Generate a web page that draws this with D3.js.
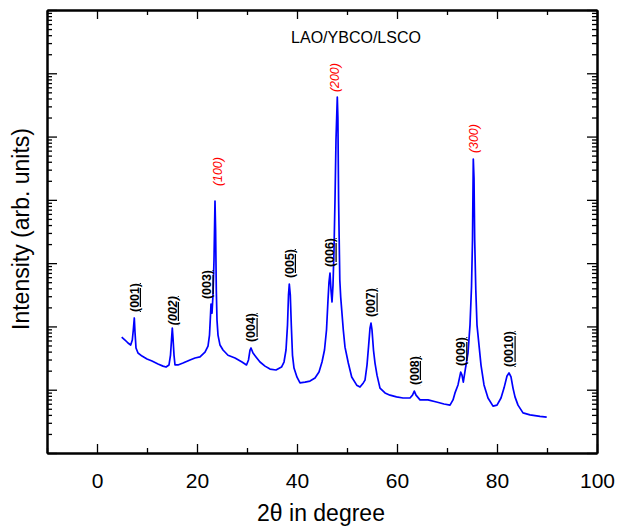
<!DOCTYPE html>
<html>
<head>
<meta charset="utf-8">
<script src="https://cdn.jsdelivr.net/npm/d3@7/dist/d3.min.js"></script>
<style>
  html, body { margin: 0; padding: 0; background: #fff; }
  svg { display: block; font-family: "Liberation Sans", Arial, sans-serif; }
</style>
</head>
<body>
<svg id="chart" width="619" height="526"></svg>
<script>
// XRD scan of LAO/YBCO/LSCO: 2θ (degrees) and intensity (arb. units)
const twoTheta = [
  4.94, 5.6, 6.2, 6.74, 7.06, 7.26, 7.46, 7.6, 7.8, 8.2, 9.0, 10.0, 11.0, 12.2, 13.2, 13.8,
  14.4, 14.7, 14.9, 15.06, 15.2, 15.4, 15.6, 16.2, 17.2, 18.6, 19.6, 20.6, 21.6, 22.2, 22.5,
  22.7, 22.8, 23.0, 23.2, 23.4, 23.6, 23.72, 23.86, 24.0, 24.2, 24.6, 25.2, 26.2, 27.6, 29.0,
  29.9, 30.3, 30.6, 30.8, 31.2, 31.8, 32.6, 33.6, 34.6, 35.8, 36.9, 37.4, 37.8, 38.1, 38.3,
  38.46, 38.66, 38.86, 39.1, 39.4, 40.0, 40.6, 41.6, 42.6, 43.6, 44.4, 45.0, 45.5, 45.9, 46.2,
  46.4, 46.6, 46.8, 47.0, 47.2, 47.4, 47.6, 47.8, 48.06, 48.18, 48.32, 48.56, 48.74, 49.26, 49.6,
  50.26, 50.94, 51.94, 52.6, 53.26, 53.6, 54.0, 54.3, 54.6, 54.8, 55.0, 55.3, 55.6, 56.0, 56.6,
  57.6, 58.6, 59.9, 61.2, 62.6, 63.1, 63.46, 63.8, 64.6, 66.2, 67.9, 69.4, 70.6, 71.2, 71.6,
  72.2, 72.74, 73.0, 73.26, 73.7, 74.2, 74.6, 74.9, 75.1, 75.26, 75.4, 75.54, 75.76, 76.0, 76.4,
  76.8, 77.4, 78.2, 79.2, 80.0, 80.8, 81.4, 82.0, 82.4, 82.8, 83.2, 83.6, 84.2, 85.2, 86.6,
  88.6, 89.94
];
const intensity = [
  68, 61, 54.7, 50.8, 61, 87.7, 136, 81, 45.6, 38, 34, 30.6, 28.4, 25.5, 23.6, 22.8,
  24.6, 35.3, 61, 94, 65.6, 35.3, 24.6, 24.6, 26.4, 29.5, 31.7, 33, 39.4, 49, 73,
  151, 226, 162, 313, 1120, 9570, 3340, 376, 126, 73, 50.8, 42.4, 35, 31.7, 27.4,
  24.6, 29.5, 42.4, 45.6, 38, 33, 27.4, 23.6, 21.2, 20.5, 22.8, 27.4, 42.4, 105, 313,
  468, 313, 105, 35, 22, 15.8, 12.8, 13.2, 13.7, 15.3, 19, 27.4, 42.4, 87.7, 261,
  503, 698, 376, 243, 450, 1610, 9930, 88100, 421000, 196000, 9930, 541, 291, 87.7, 47,
  26.4, 15.9, 11.8, 11, 12.8, 14.2, 24.5, 47, 94, 113, 88, 42, 26.4, 17, 10.6,
  8.9, 8.2, 7.7, 7.4, 7.4, 8.2, 9.5, 8.2, 6.9, 6.9, 6.4, 5.95, 5.7, 6.9, 8.9,
  11.9, 19, 17, 13.2, 22, 38, 105, 419, 2320, 44100, 22100, 2320, 376, 105, 50.7,
  24.5, 11.9, 7.4, 5.5, 5.7, 7.4, 10.6, 16.5, 18.4, 15.9, 10.6, 7.7, 5.7, 4.3, 4.0,
  3.8, 3.7
];

// Reflection labels
const ybcoLabels = ["(001)", "(002)", "(003)", "(004)", "(005)", "(006)", "(007)", "(008)", "(009)", "(0010)"];
const ybcoTheta  = [7.46, 15.06, 22.8, 30.8, 38.46, 46.6, 54.8, 63.46, 72.74, 82.4];
const substrateLabels = ["(100)", "(200)", "(300)"];
const substrateTheta  = [23.6, 48.06, 75.26];

const xTicks = [0, 20, 40, 60, 80, 100];
const xMinorTicks = [-10, 10, 30, 50, 70, 90];
const sampleName = "LAO/YBCO/LSCO";
const xTitle = "2θ in degree";
const yTitle = "Intensity (arb. units)";

const svg = d3.select("#chart");
const plotLeft = 47, plotRight = 597, plotTop = 10, plotBottom = 453;

const x = d3.scaleLinear().domain([-10, 100]).range([plotLeft, plotRight]);
const y = d3.scaleLog().domain([1, 1e7]).range([plotBottom, plotTop]);

const decades = d3.range(0, 8).map(p => Math.pow(10, p));
const minorY = [];
for (let p = 0; p < 7; p++) for (let k = 2; k <= 9; k++) minorY.push(k * Math.pow(10, p));

function styleAxis(g) {
  g.selectAll("path.domain").attr("stroke", "#000").attr("stroke-width", 2);
  g.selectAll(".tick line").attr("stroke", "#000").attr("stroke-width", 1.3);
}

// bottom axis with labels
svg.append("g").attr("transform", `translate(0,${plotBottom})`)
  .call(d3.axisBottom(x).tickValues(xTicks).tickFormat(d3.format("d")).tickSize(-9).tickSizeOuter(0).tickPadding(20))
  .call(styleAxis)
  .call(g => g.selectAll("text").attr("font-size", 21).attr("fill", "#000")
    .attr("font-family", "Liberation Sans, Arial, sans-serif"));
svg.append("g").attr("transform", `translate(0,${plotBottom})`)
  .call(d3.axisBottom(x).tickValues(xMinorTicks).tickFormat("").tickSize(-5).tickSizeOuter(0))
  .call(styleAxis);

// top axis (ticks only)
svg.append("g").attr("transform", `translate(0,${plotTop})`)
  .call(d3.axisTop(x).tickValues(xTicks).tickFormat("").tickSize(-9).tickSizeOuter(0))
  .call(styleAxis);
svg.append("g").attr("transform", `translate(0,${plotTop})`)
  .call(d3.axisTop(x).tickValues(xMinorTicks).tickFormat("").tickSize(-5).tickSizeOuter(0))
  .call(styleAxis);

// left and right log axes (ticks only)
[[d3.axisLeft, plotLeft], [d3.axisRight, plotRight]].forEach(([axisFn, pos]) => {
  svg.append("g").attr("transform", `translate(${pos},0)`)
    .call(axisFn(y).tickValues(decades).tickFormat("").tickSize(-10).tickSizeOuter(0))
    .call(styleAxis);
  svg.append("g").attr("transform", `translate(${pos},0)`)
    .call(axisFn(y).tickValues(minorY).tickFormat("").tickSize(-5).tickSizeOuter(0))
    .call(styleAxis);
});

// diffraction pattern
const pts = twoTheta.map((t, i) => [t, intensity[i]]);
svg.append("path")
  .datum(pts)
  .attr("fill", "none")
  .attr("stroke", "#0000ff")
  .attr("stroke-width", 1.7)
  .attr("stroke-linejoin", "round")
  .attr("d", d3.line().x(d => x(d[0])).y(d => y(d[1])));

function peakValue(t) {
  let best = 0, bd = Infinity;
  twoTheta.forEach((v, i) => { const d = Math.abs(v - t); if (d < bd) { bd = d; best = i; } });
  return intensity[best];
}

// small label nudges (px) where neighbouring peaks crowd the space
const nudge = { "(003)": [-4, -5], "(100)": [3, -15], "(200)": [-3, -5], "(002)": [0, -3] };

function drawLabels(names, thetas, color, italic, underline, weight) {
  names.forEach((name, i) => {
    const [dx, dy] = nudge[name] || [0, -6];
    const px = x(thetas[i]) + dx;
    const py = y(peakValue(thetas[i])) + dy;
    svg.append("text")
      .attr("transform", `translate(${px},${py}) rotate(-90)`)
      .attr("dy", "0.36em")
      .attr("text-anchor", "start")
      .attr("font-size", 12.4)
      .attr("font-weight", weight)
      .attr("fill", color)
      .attr("font-style", italic(name) ? "italic" : "normal")
      .attr("text-decoration", underline ? "underline" : "none")
      .text(name);
  });
}
drawLabels(ybcoLabels, ybcoTheta, "#000", n => n === "(002)", true, "bold");
drawLabels(substrateLabels, substrateTheta, "#ff0000", () => true, false, "normal");

// sample name
svg.append("text")
  .attr("x", 356).attr("y", 43)
  .attr("text-anchor", "middle")
  .attr("font-size", 16)
  .attr("fill", "#000")
  .text(sampleName);

// axis titles
svg.append("text")
  .attr("x", (x(0) + x(100)) / 2 - 26).attr("y", 521)
  .attr("text-anchor", "middle")
  .attr("font-size", 23)
  .attr("fill", "#000")
  .text(xTitle);

svg.append("text")
  .attr("transform", `translate(29,229) rotate(-90)`)
  .attr("text-anchor", "middle")
  .attr("font-size", 23)
  .attr("fill", "#000")
  .text(yTitle);
</script>
</body>
</html>
